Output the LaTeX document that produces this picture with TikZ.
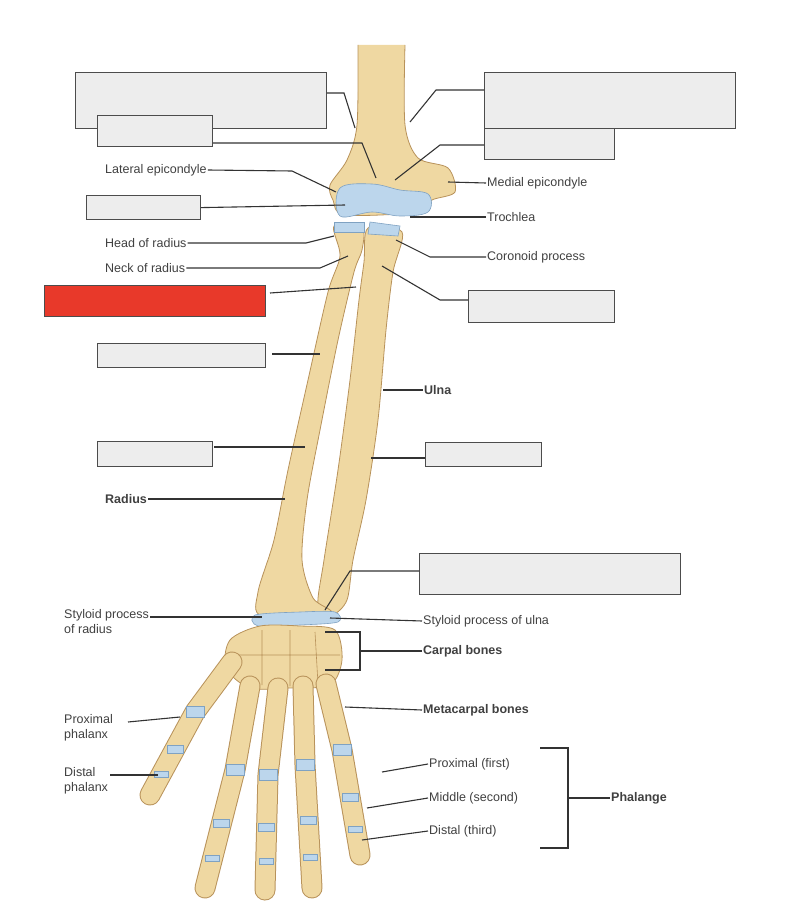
\documentclass[tikz,border=0pt]{standalone}
\usepackage{fontspec}
\setmainfont{Liberation Sans}
\usetikzlibrary{calc}
\begin{document}
\begin{tikzpicture}[x=1pt,y=-1pt,
  box/.style={draw=black!70,fill=black!7,line width=1.2pt},
  lead/.style={draw=black!80,line width=1.1pt},
  lbl/.style={anchor=west,font=\fontsize{12.5}{15}\selectfont,text=black!75,inner sep=1pt},
  blbl/.style={lbl,font=\fontsize{12.5}{15}\selectfont\bfseries},
  bone/.style={draw=bonedk,fill=bonefill,line width=0.8pt},
  cart/.style={draw=cartdk,fill=cartfill,line width=0.6pt}]
\definecolor{bonefill}{HTML}{EFD8A2}
\definecolor{bonedk}{HTML}{B8925A}
\definecolor{cartfill}{HTML}{BCD6EC}
\definecolor{cartdk}{HTML}{7FA2C2}
\definecolor{redbox}{HTML}{E8392A}
\useasboundingbox (0,0) rectangle (790,920);
% humerus
\draw[bone] plot[smooth,tension=0.5] coordinates{(405,45)(405,125)(418,158)(448,168)(455,192)(432,200)(420,212)(345,215)(333,200)(330,185)(347,160)(357,125)(358,45)};
% ulna
\draw[bone] plot[smooth cycle,tension=0.5] coordinates{(368,228)(402,232)(393,272)(386,330)(378,420)(366,500)(353,560)(347,600)(332,615)(318,605)(324,560)(338,470)(350,380)(359,300)(364,262)};
% radius
\draw[bone] plot[smooth cycle,tension=0.5] coordinates{(334,226)(362,228)(362,250)(354,272)(338,340)(320,430)(307,500)(302,560)(313,598)(330,613)(262,616)(258,592)(274,540)(288,470)(308,380)(328,292)(340,256)};
% cartilage elbow
\draw[cart] plot[smooth cycle,tension=0.6] coordinates{(340,188)(372,184)(400,190)(428,194)(428,212)(400,216)(372,212)(340,216)};
\draw[cart] (334,222) rectangle (364,232);
\draw[cart] (370,222) -- (400,226) -- (398,236) -- (368,234) -- cycle;
% wrist cartilage
\draw[cart] plot[smooth cycle] coordinates{(255,615)(300,612)(335,612)(338,622)(300,625)(258,626)};
% carpals
\draw[bone] plot[smooth cycle,tension=0.5] coordinates{(230,640)(260,626)(300,626)(335,630)(342,660)(330,685)(290,688)(250,688)(226,668)};
\draw[bonedk,line width=0.6pt] (262,630)--(262,685) (290,630)--(290,686) (315,632)--(318,684) (230,655)--(340,655);
% digits
\foreach \ax/\ay/\bx/\by/\cx/\cy in {232/662/195/712/150/795, 250/686/235/770/205/888, 278/688/268/775/265/890, 303/686/305/765/312/888, 326/684/342/750/360/855}{
  \draw[bonedk,line width=21pt,line cap=round] (\ax,\ay)--(\bx,\by)--(\cx,\cy);
  \draw[bonefill,line width=19pt,line cap=round] (\ax,\ay)--(\bx,\by)--(\cx,\cy);
  \filldraw[fill=cartfill,draw=cartdk] ($(\bx,\by)+(-9,-6)$) rectangle ($(\bx,\by)+(9,5)$);
  \filldraw[fill=cartfill,draw=cartdk] ($(\bx,\by)!0.45!(\cx,\cy)+(-8,-4)$) rectangle ($(\bx,\by)!0.45!(\cx,\cy)+(8,4)$);
  \filldraw[fill=cartfill,draw=cartdk] ($(\bx,\by)!0.75!(\cx,\cy)+(-7,-3)$) rectangle ($(\bx,\by)!0.75!(\cx,\cy)+(7,3)$);
}
% boxes
\node[box,minimum width=251pt,minimum height=56pt,anchor=north west] (b1) at (75,72) {};
\node[box,minimum width=115pt,minimum height=31pt,anchor=north west] (b2) at (97,115) {};
\node[box,minimum width=251pt,minimum height=56pt,anchor=north west] (b3) at (484,72) {};
\node[box,minimum width=130pt,minimum height=31pt,anchor=north west] (b4) at (484,128) {};
\node[box,minimum width=114pt,minimum height=24pt,anchor=north west] (b5) at (86,195) {};
\node[draw=black!70,fill=redbox,line width=1.2pt,minimum width=221pt,minimum height=31pt,anchor=north west] (b6) at (44,285) {};
\node[box,minimum width=146pt,minimum height=32pt,anchor=north west] (b7) at (468,290) {};
\node[box,minimum width=168pt,minimum height=24pt,anchor=north west] (b8) at (97,343) {};
\node[box,minimum width=115pt,minimum height=25pt,anchor=north west] (b9) at (97,441) {};
\node[box,minimum width=116pt,minimum height=24pt,anchor=north west] (b10) at (425,442) {};
\node[box,minimum width=261pt,minimum height=41pt,anchor=north west] (b11) at (419,553) {};
% box leaders
\coordinate (p1) at (355,128); \draw[lead] (b1.east|-0,93) -- (344,93) -- (p1);
\coordinate (p3) at (410,122); \draw[lead] (b3.west|-0,90) -- (436,90) -- (p3);
\coordinate (p2) at (376,178); \draw[lead] (b2.east|-0,143) -- (362,143) -- (p2);
\coordinate (p4) at (395,180); \draw[lead] (b4.west|-0,145) -- (440,145) -- (p4);
\coordinate (p5) at (345,205); \draw[lead] (b5.east) -- (p5);
\coordinate (p6) at (356,287); \draw[lead] (270,293) -- (p6);
\coordinate (p7) at (382,266); \draw[lead] (p7) -- (440,300) -- (b7.west|-0,300);
\coordinate (p8) at (320,354); \draw[lead] (272,354) -- (p8);
\coordinate (p9) at (305,447); \draw[lead] (214,447) -- (p9);
\coordinate (p10) at (371,458); \draw[lead] (p10) -- (b10.west|-0,458);
\coordinate (p11) at (325,610); \draw[lead] (p11) -- (350,571) -- (b11.west|-0,571);
% labels
\node[lbl] (t1) at (104,170) {Lateral epicondyle}; \draw[lead] (t1.east) -- (292,171) -- (336,192);
\node[lbl] (t2) at (486,183) {Medial epicondyle}; \draw[lead] (t2.west) -- (448,182);
\node[lbl] (t3) at (486,217) {Trochlea}; \draw[lead] (t3.west) -- (410,217);
\node[lbl] (t4) at (104,243) {Head of radius}; \draw[lead] (t4.east) -- (306,243) -- (334,236);
\node[lbl] (t5) at (104,268) {Neck of radius}; \draw[lead] (t5.east) -- (320,268) -- (348,256);
\node[lbl] (t6) at (486,257) {Coronoid process}; \draw[lead] (t6.west) -- (430,257) -- (396,240);
\node[blbl] (t7) at (423,390) {Ulna}; \draw[lead] (t7.west) -- (383,390);
\node[blbl] (t8) at (104,499) {Radius}; \draw[lead] (t8.east) -- (285,499);
\node[lbl,align=left,anchor=north west] (t9) at (63,608) {Styloid process\\of radius}; \draw[lead] (t9.north east|-0,617) -- (262,617);
\node[lbl] (t10) at (422,621) {Styloid process of ulna}; \draw[lead] (t10.west) -- (330,618);
\node[blbl] (t11) at (422,651) {Carpal bones}; \draw[lead] (325,632) -- (360,632) -- (360,670) -- (325,670); \draw[lead] (360,651) -- (t11.west);
\node[blbl] (t12) at (422,710) {Metacarpal bones}; \draw[lead] (t12.west) -- (345,707);
\node[lbl,align=left,anchor=north west] (t13) at (63,713) {Proximal\\phalanx}; \draw[lead] (128,722) -- (180,717);
\node[lbl,align=left,anchor=north west] (t14) at (63,766) {Distal\\phalanx}; \draw[lead] (110,775) -- (158,775);
\node[lbl] (t15) at (428,764) {Proximal (first)}; \draw[lead] (t15.west) -- (382,772);
\node[lbl] (t16) at (428,798) {Middle (second)}; \draw[lead] (t16.west) -- (367,808);
\node[lbl] (t17) at (428,831) {Distal (third)}; \draw[lead] (t17.west) -- (362,840);
\draw[lead] (540,748) -- (568,748) -- (568,848) -- (540,848);
\node[blbl] (t18) at (610,798) {Phalange}; \draw[lead] (568,798) -- (t18.west);
\end{tikzpicture}
\end{document}
